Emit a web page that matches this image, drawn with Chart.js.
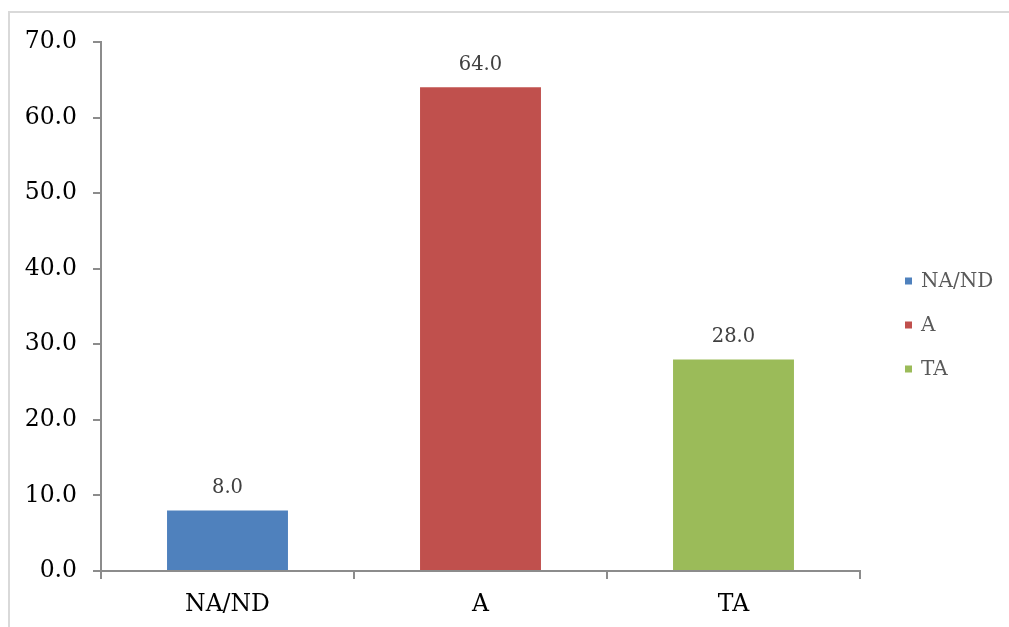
<!DOCTYPE html>
<html>
<head>
<meta charset="utf-8">
<script src="https://cdn.jsdelivr.net/npm/chart.js@4.4.0/dist/chart.umd.min.js"></script>
<style>
  html, body { margin: 0; padding: 0; background: #fff; overflow: hidden; }
  #wrap { position: relative; width: 1009px; height: 627px; overflow: hidden; }
  #frame { position: absolute; left: 8px; top: 11px; width: 1001px; height: 700px;
           border-left: 2px solid #d9d9d9; border-top: 2px solid #d9d9d9; box-sizing: border-box; }
  canvas { position: absolute; left: 0; top: 0; }
</style>
</head>
<body>
<div id="wrap">
  <div id="frame"></div>
  <canvas id="c" width="1009" height="627"></canvas>
</div>
<script>
const categories = ['NA/ND', 'A', 'TA'];
const values = [8.0, 64.0, 28.0];
const barColors = ['#4f81bd', '#c0504d', '#9bbb59'];
const yTicks = [0, 10, 20, 30, 40, 50, 60, 70];

const FONT = "'DejaVu Serif', serif";

const valueLabels = {
  id: 'valueLabels',
  afterDatasetsDraw(chart) {
    const ctx = chart.ctx;
    const meta = chart.getDatasetMeta(0);
    ctx.save();
    ctx.font = "19.5px " + FONT;
    ctx.fillStyle = '#404040';
    ctx.textAlign = 'center';
    ctx.textBaseline = 'bottom';
    meta.data.forEach((bar, i) => {
      ctx.fillText(values[i].toFixed(1), bar.x, bar.y - 13);
    });
    ctx.restore();
  }
};

const sideLegend = {
  id: 'sideLegend',
  afterDraw(chart) {
    const ctx = chart.ctx;
    ctx.save();
    ctx.font = "20px " + FONT;
    ctx.textBaseline = 'middle';
    ctx.textAlign = 'left';
    categories.forEach((name, i) => {
      const cy = 281 + i * 44;
      ctx.fillStyle = barColors[i];
      ctx.fillRect(905, cy - 3.5, 7, 7);
      ctx.fillStyle = '#595959';
      ctx.fillText(name, 921, cy + 1);
    });
    ctx.restore();
  }
};

new Chart(document.getElementById('c'), {
  type: 'bar',
  data: {
    labels: categories,
    datasets: [{
      data: values,
      backgroundColor: barColors,
      borderWidth: 0,
      categoryPercentage: 1.0,
      barPercentage: 0.478
    }]
  },
  options: {
    responsive: false,
    animation: false,
    devicePixelRatio: 1,
    layout: { padding: { left: 0, right: 149, top: 42, bottom: 0 } },
    plugins: { legend: { display: false }, tooltip: { enabled: false } },
    scales: {
      x: {
        grid: { display: true, offset: true, drawOnChartArea: false, drawTicks: true,
                tickLength: 8, color: '#8c8c8c', lineWidth: 2 },
        border: { display: true, color: '#8c8c8c', width: 2 },
        ticks: { color: '#000', font: { family: FONT, size: 23.5 }, padding: 12 },
        afterFit(s) { s.height = 627 - 571; }
      },
      y: {
        min: 0, max: 70,
        afterBuildTicks(s) { s.ticks = yTicks.map(v => ({ value: v })); },
        grid: { display: true, drawOnChartArea: false, drawTicks: true,
                tickLength: 8, color: '#8c8c8c', lineWidth: 2 },
        border: { display: true, color: '#8c8c8c', width: 2 },
        ticks: { color: '#000', font: { family: FONT, size: 23.5 }, padding: 16,
                 callback: v => Number(v).toFixed(1) },
        afterFit(s) { s.width = 101; }
      }
    }
  },
  plugins: [valueLabels, sideLegend]
});
</script>
</body>
</html>
